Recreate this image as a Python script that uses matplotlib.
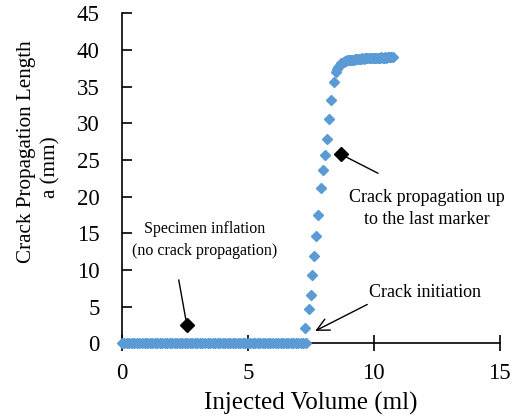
import matplotlib.pyplot as plt

# flat stage (specimen inflation, no crack growth)
flat_vol = [0.0, 0.1, 0.2, 0.3, 0.4, 0.5, 0.6, 0.7, 0.8, 0.9,
            1.0, 1.1, 1.2, 1.3, 1.4, 1.5, 1.6, 1.7, 1.8, 1.9,
            2.0, 2.1, 2.2, 2.3, 2.4, 2.5, 2.6, 2.7, 2.8, 2.9,
            3.0, 3.1, 3.2, 3.3, 3.4, 3.5, 3.6, 3.7, 3.8, 3.9,
            4.0, 4.1, 4.2, 4.3, 4.4, 4.5, 4.6, 4.7, 4.8, 4.9,
            5.0, 5.1, 5.2, 5.3, 5.4, 5.5, 5.6, 5.7, 5.8, 5.9,
            6.0, 6.1, 6.2, 6.3, 6.4, 6.5, 6.6, 6.7, 6.8, 6.9,
            7.0, 7.1, 7.2, 7.3]
flat_len = [0.0] * len(flat_vol)

# crack growth
rise_vol = [7.29, 7.42, 7.49, 7.54, 7.62, 7.72, 7.80, 7.90, 7.99, 8.07,
            8.14, 8.22, 8.32, 8.41]
rise_len = [2.1, 4.7, 6.6, 9.3, 11.9, 14.6, 17.5, 21.2, 23.6, 25.7,
            27.8, 30.6, 33.2, 35.6]

# plateau
plat_vol = [8.50, 8.55, 8.60, 8.65, 8.70, 8.75, 8.80, 8.85, 8.90, 8.95,
            9.00, 9.05, 9.10, 9.15, 9.20, 9.25, 9.30, 9.35, 9.40, 9.45,
            9.50, 9.55, 9.60, 9.65, 9.70, 9.75, 9.80, 9.85, 9.90, 9.95,
            10.00, 10.05, 10.10, 10.15, 10.20, 10.25, 10.30, 10.35, 10.40,
            10.45, 10.50, 10.55, 10.60, 10.65, 10.70, 10.75]
plat_len = [37.0, 37.4, 37.7, 38.0, 38.2, 38.3, 38.4, 38.5, 38.55, 38.6,
            38.6, 38.65, 38.7, 38.7, 38.7, 38.75, 38.8, 38.75, 38.8, 38.8,
            38.8, 38.85, 38.8, 38.85, 38.9, 38.85, 38.9, 38.9, 38.85, 38.9,
            38.9, 38.95, 38.9, 38.95, 38.9, 38.95, 39.0, 38.95, 38.95,
            39.0, 38.95, 39.0, 39.0, 39.0, 39.05, 39.0]

vol = flat_vol + rise_vol + plat_vol
length = flat_len + rise_len + plat_len

plt.rcParams['font.family'] = 'Liberation Serif'

fig = plt.figure(figsize=(5.12, 4.2), dpi=100)
ax = fig.add_axes([0.238, 0.183, 0.738, 0.785])

ax.plot(vol, length, linestyle='none', marker='D', markersize=5.2,
        color='#5B9BD5', clip_on=False, zorder=3)

ax.set_xlim(0, 15)
ax.set_ylim(0, 45)
ax.set_xticks([0, 5, 10, 15])
ax.set_yticks(range(0, 50, 5))
ax.spines['top'].set_visible(False)
ax.spines['right'].set_visible(False)
ax.tick_params(axis='x', direction='inout', length=12, width=1.2, labelsize=16.5, pad=8)
ax.tick_params(axis='y', direction='in', length=7, width=1.2, labelsize=16.5, pad=16)
for s in ['left', 'bottom']:
    ax.spines[s].set_linewidth(1.2)

ax.set_xlabel('Injected Volume (ml)', fontsize=18, labelpad=6)
fig.text(0.052, 1 - 152 / 420, 'Crack Propagation Length', rotation=90,
         fontsize=15.2, ha='center', va='center')
fig.text(0.1, 1 - 167 / 420, 'a (mm)', rotation=90,
         fontsize=15.2, ha='center', va='center')

# annotations
ax.plot([2.26, 2.58], [8.6, 2.45], color='black', lw=1)
ax.plot([2.58], [2.45], marker='D', ms=7, color='black')
ax.text(3.29, 14.1, 'Specimen inflation\n(no crack propagation)', ha='center',
        va='center', fontsize=11.5, linespacing=1.45)

ax.plot([8.68, 10.16], [25.8, 23.2], color='black', lw=1)
ax.plot([8.68], [25.8], marker='D', ms=7, color='black')
ax.text(12.1, 18.4, 'Crack propagation up\nto the last marker', ha='center',
        va='center', fontsize=13, linespacing=1.35)

ax.annotate('', xy=(7.58, 1.5), xytext=(9.84, 5.45),
            arrowprops=dict(arrowstyle='->', color='black', lw=1,
                            mutation_scale=22))
ax.text(12.04, 6.97, 'Crack initiation', ha='center', va='center', fontsize=13)

fig.savefig('out.png', dpi=100)
